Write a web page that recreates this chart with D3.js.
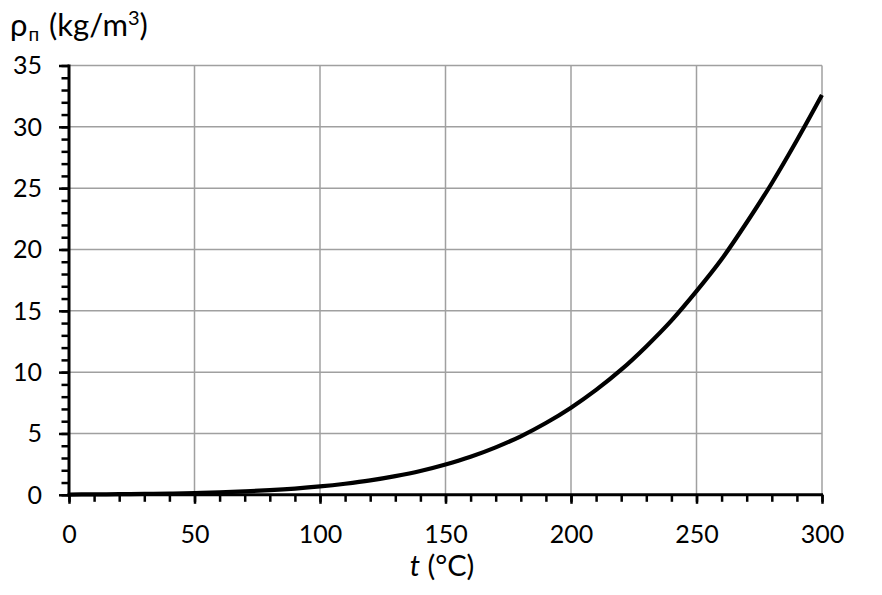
<!DOCTYPE html>
<html>
<head>
<meta charset="utf-8">
<script src="https://cdn.jsdelivr.net/npm/d3@7"></script>
<style>
  body { margin: 0; background: #fff; }
  svg { display: block; font-family: Lato, "Open Sans", sans-serif; }
</style>
</head>
<body>
<div id="chart"></div>
<script>
const FRAME_WIDTH = 882;
const FRAME_HEIGHT = 595;
const MARGINS = {left: 69, right: 60, top: 65.5, bottom: 100};

// temperature t (°C) and vapour density (kg/m3)
const temps = [0, 10, 20, 30, 40, 50, 60, 70, 80, 90, 100, 110, 120, 130, 140, 150,
               160, 170, 180, 190, 200, 210, 220, 230, 240, 250, 260, 270, 280, 290, 300];
const density = [0.02, 0.035, 0.05, 0.07, 0.10, 0.145, 0.20, 0.28, 0.38, 0.51, 0.68, 0.90,
                 1.17, 1.52, 1.94, 2.47, 3.10, 3.87, 4.77, 5.85, 7.10, 8.55, 10.2, 12.1,
                 14.2, 16.6, 19.2, 22.2, 25.4, 28.9, 32.6];

const xTicks = [0, 50, 100, 150, 200, 250, 300];
const yTicks = [0, 5, 10, 15, 20, 25, 30, 35];

const data = temps.map((t, i) => ({t: t, rho: density[i]}));

const X_SCALE = d3.scaleLinear().domain([0, 300]).range([MARGINS.left, 822]);
const Y_SCALE = d3.scaleLinear().domain([0, 35]).range([494.8, MARGINS.top]);

const FRAME = d3.select("#chart")
                .append("svg")
                  .attr("width", FRAME_WIDTH)
                  .attr("height", FRAME_HEIGHT);

// grid lines
FRAME.append("g")
  .selectAll("line.vgrid")
  .data(xTicks.slice(1))
  .enter()
  .append("line")
    .attr("x1", d => X_SCALE(d)).attr("x2", d => X_SCALE(d))
    .attr("y1", Y_SCALE(0)).attr("y2", Y_SCALE(35))
    .attr("stroke", "#a0a0a0").attr("stroke-width", 1.5);

FRAME.append("g")
  .selectAll("line.hgrid")
  .data(yTicks.slice(1))
  .enter()
  .append("line")
    .attr("x1", X_SCALE(0)).attr("x2", X_SCALE(300))
    .attr("y1", d => Y_SCALE(d)).attr("y2", d => Y_SCALE(d))
    .attr("stroke", "#a0a0a0").attr("stroke-width", 1.5);

// minor ticks
FRAME.append("g")
  .attr("transform", "translate(0," + Y_SCALE(0) + ")")
  .call(d3.axisBottom(X_SCALE).tickValues(d3.range(0, 301, 10)).tickSize(7).tickFormat(""))
  .call(g => g.select(".domain").remove())
  .selectAll("line").attr("stroke-width", 2.5);

FRAME.append("g")
  .attr("transform", "translate(" + X_SCALE(0) + ",0)")
  .call(d3.axisLeft(Y_SCALE).tickValues(d3.range(0, 36, 1)).tickSize(7.5).tickFormat(""))
  .call(g => g.select(".domain").remove())
  .selectAll("line").attr("stroke-width", 2.5);

// major ticks + labels
const xAxis = FRAME.append("g")
  .attr("transform", "translate(0," + Y_SCALE(0) + ")")
  .call(d3.axisBottom(X_SCALE).tickValues(xTicks).tickSize(9))
  .call(g => g.select(".domain").remove());
xAxis.selectAll("line").attr("stroke-width", 2.5);
xAxis.selectAll("text")
  .attr("y", 48.5).attr("dy", 0)
  .attr("font-size", "25px").attr("font-family", "Lato, sans-serif").attr("fill", "#000");

const yAxis = FRAME.append("g")
  .attr("transform", "translate(" + X_SCALE(0) + ",0)")
  .call(d3.axisLeft(Y_SCALE).tickValues(yTicks).tickSize(10))
  .call(g => g.select(".domain").remove());
yAxis.selectAll("line").attr("stroke-width", 2.5);
yAxis.selectAll("text")
  .attr("x", -27).attr("dy", "0.33em")
  .attr("font-size", "25px").attr("font-family", "Lato, sans-serif").attr("fill", "#000");

// axis lines
FRAME.append("line")
  .attr("x1", X_SCALE(0) - 1.5).attr("x2", X_SCALE(300) + 1)
  .attr("y1", Y_SCALE(0)).attr("y2", Y_SCALE(0))
  .attr("stroke", "#000").attr("stroke-width", 3);
FRAME.append("line")
  .attr("x1", X_SCALE(0)).attr("x2", X_SCALE(0))
  .attr("y1", Y_SCALE(0) + 1.5).attr("y2", Y_SCALE(35) - 1)
  .attr("stroke", "#000").attr("stroke-width", 3);

// density curve
const line = d3.line()
  .x(d => X_SCALE(d.t))
  .y(d => Y_SCALE(d.rho))
  .curve(d3.curveMonotoneX);

FRAME.append("path")
  .datum(data)
  .attr("d", line)
  .attr("fill", "none")
  .attr("stroke", "#000")
  .attr("stroke-width", 4.2)
  .attr("stroke-linejoin", "round");

// axis titles
const xTitle = FRAME.append("text")
  .attr("x", 442).attr("y", 576)
  .attr("text-anchor", "middle")
  .attr("font-size", "29px");
xTitle.append("tspan").attr("font-style", "italic").text("t");
xTitle.append("tspan").text(" (°C)");

const yTitle = FRAME.append("text")
  .attr("x", 10).attr("y", 36)
  .attr("font-size", "31px");
yTitle.append("tspan").text("ρ");
yTitle.append("tspan").attr("font-size", "19px").attr("dx", 1).attr("dy", 5).text("п");
yTitle.append("tspan").attr("dx", 2).attr("dy", -5).text(" (kg/m");
yTitle.append("tspan").attr("font-size", "20px").attr("dy", -11).text("3");
yTitle.append("tspan").attr("dy", 11).text(")");
</script>
</body>
</html>
